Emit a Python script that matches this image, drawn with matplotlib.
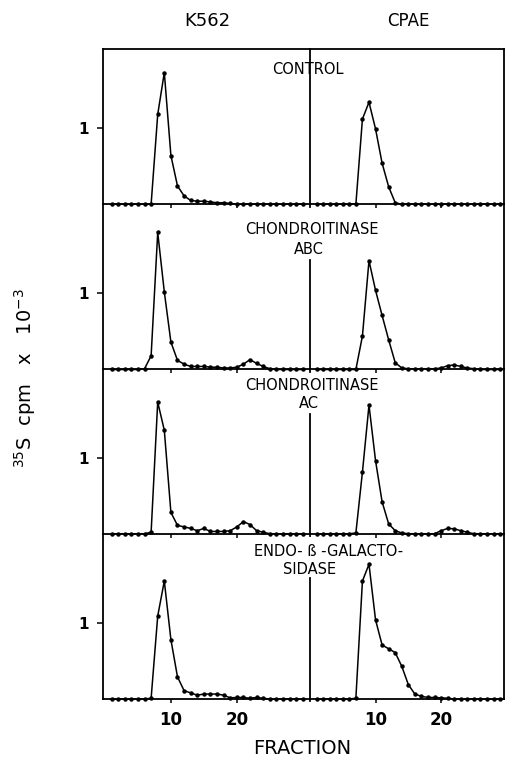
import matplotlib
matplotlib.use("Agg")
import matplotlib.pyplot as plt
import numpy as np

plt.rcParams['font.family'] = ['DejaVu Sans']

# ---- data (cpm x 10^-3 per fraction) ----
k562_fractions = list(range(1, 31))
cpae_fractions = list(range(1, 30))

k562_control = [0, 0, 0, 0, 0, 0, 0, 1.18, 1.73, 0.64, 0.24, 0.11, 0.05, 0.04, 0.04,
                0.03, 0.02, 0.02, 0.01, 0, 0, 0, 0, 0, 0, 0, 0, 0, 0, 0]
k562_abc = [0, 0, 0, 0, 0, 0.01, 0.18, 1.80, 1.02, 0.36, 0.12, 0.07, 0.04, 0.04, 0.04,
            0.03, 0.03, 0.02, 0.02, 0.03, 0.07, 0.13, 0.08, 0.04, 0.01, 0, 0, 0, 0, 0]
k562_ac = [0, 0, 0, 0, 0, 0, 0.02, 1.73, 1.36, 0.28, 0.11, 0.09, 0.07, 0.04, 0.07,
           0.03, 0.03, 0.03, 0.04, 0.09, 0.16, 0.12, 0.04, 0.02, 0, 0, 0, 0, 0, 0]
k562_endo = [0, 0, 0, 0, 0, 0, 0.01, 1.09, 1.55, 0.78, 0.29, 0.11, 0.08, 0.05, 0.065,
             0.065, 0.065, 0.05, 0.015, 0.02, 0.02, 0.01, 0.02, 0.01, 0, 0, 0, 0, 0, 0]

cpae_control = [0, 0, 0, 0, 0, 0, 0, 1.12, 1.34, 0.99, 0.54, 0.23, 0.02, 0, 0,
                0, 0, 0, 0, 0, 0, 0, 0, 0, 0, 0, 0, 0, 0]
cpae_abc = [0, 0, 0, 0, 0, 0, 0, 0.44, 1.43, 1.04, 0.71, 0.39, 0.09, 0.02, 0.01,
            0.01, 0.01, 0.01, 0.01, 0.02, 0.05, 0.06, 0.04, 0.02, 0.01, 0, 0, 0, 0]
cpae_ac = [0, 0, 0, 0, 0, 0, 0.01, 0.81, 1.69, 0.96, 0.42, 0.13, 0.04, 0.01, 0,
           0, 0, 0, 0, 0.04, 0.07, 0.065, 0.04, 0.02, 0, 0, 0, 0, 0]
cpae_endo = [0, 0, 0, 0, 0, 0, 0.01, 1.55, 1.77, 1.04, 0.71, 0.66, 0.61, 0.43, 0.19,
             0.065, 0.035, 0.02, 0.02, 0.015, 0.01, 0, 0, 0, 0, 0, 0, 0, 0]

k562_series = [k562_control, k562_abc, k562_ac, k562_endo]
cpae_series = [cpae_control, cpae_abc, cpae_ac, cpae_endo]

column_titles = ["K562", "CPAE"]
x_ticks = [10, 20]
x_ticklabels = ["10", "20"]
y_ticks = [1]
y_ticklabels = ["1"]
xlabel = "FRACTION"
ylabel = r"$^{35}$S  cpm   x   10$^{-3}$"

# ---- layout ----
W, H = 507, 760
fig = plt.figure(figsize=(W / 100, H / 100), dpi=100)

height_px = [155, 165, 164, 165]
gs = fig.add_gridspec(4, 2, left=103 / W, right=504 / W, top=1 - 49 / H, bottom=1 - 699 / H,
                      width_ratios=[207, 194], height_ratios=height_px, hspace=0, wspace=0)

px_per_unit = 76.0
sep_top = [1.0, 0.66, 0.73, 0.735]
lw = 1.3

for r in range(4):
    ytop = height_px[r] / px_per_unit
    for c in range(2):
        ax = fig.add_subplot(gs[r, c])
        if c == 0:
            xs, ys = k562_fractions, k562_series[r]
            ax.set_xlim(-0.3, 31.1)
        else:
            xs, ys = cpae_fractions, cpae_series[r]
            ax.set_xlim(0, 29.6)
        ax.set_ylim(0, ytop)
        ax.plot(xs, ys, color='black', lw=1.1, marker='o', ms=2.2, mfc='black', mec='black',
                clip_on=False, zorder=3)
        for s in ['left', 'right', 'top', 'bottom']:
            ax.spines[s].set_linewidth(lw)
            ax.spines[s].set_color('black')
        ax.spines['top'].set_visible(r == 0)
        if c == 0:
            ax.spines['right'].set_visible(False)
            ax.set_yticks(y_ticks)
            ax.set_yticklabels(y_ticklabels, fontsize=11, fontweight='bold')
            ax.tick_params(axis='y', direction='out', length=4, width=1.1, pad=6)
        else:
            ax.spines['left'].set_visible(False)
            ax.set_yticks([])
            ax.axvline(0, ymin=-0.015, ymax=sep_top[r], color='black', lw=lw, clip_on=False)
        ax.set_xticks(x_ticks)
        ax.tick_params(axis='x', direction='out', length=3, width=1.1, pad=6)
        if r == 3:
            ax.set_xticklabels(x_ticklabels, fontsize=12, fontweight='bold')
        else:
            ax.set_xticklabels([])
        ax.set_facecolor('none')

# column titles
fig.text(207 / W, 1 - 21 / H, column_titles[0], ha='center', va='center', fontsize=13)
fig.text(408 / W, 1 - 21 / H, column_titles[1], ha='center', va='center', fontsize=12)

# treatment labels
lab = dict(ha='center', va='center', fontsize=10.5)
fig.text(308 / W, 1 - 70 / H, "CONTROL", **lab)
fig.text(312 / W, 1 - 229 / H, "CHONDROITINASE", **lab)
fig.text(309 / W, 1 - 249 / H, "ABC", **lab)
fig.text(312 / W, 1 - 385 / H, "CHONDROITINASE", **lab)
fig.text(309 / W, 1 - 403 / H, "AC", **lab)
fig.text(329 / W, 1 - 552 / H, "ENDO- \u00df -GALACTO-", **lab)
fig.text(310 / W, 1 - 569 / H, "SIDASE", **lab)

# axis labels
fig.text(302 / W, 1 - 749 / H, xlabel, ha='center', va='center', fontsize=14)
fig.text(25 / W, 1 - 378 / H, ylabel, ha='center', va='center', rotation=90, fontsize=14)

fig.savefig("out.png", dpi=100)
